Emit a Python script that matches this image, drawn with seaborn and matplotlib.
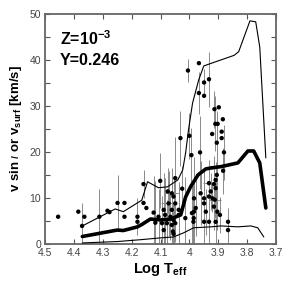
import numpy as np
import pandas as pd
import matplotlib
matplotlib.use("Agg")
import matplotlib.pyplot as plt
from matplotlib.ticker import MultipleLocator
import seaborn as sns

# Model tracks: mean (thick), upper and lower envelopes (thin)
mean_logT = [4.371, 4.25, 4.229, 4.18, 4.165, 4.135, 4.10, 4.065, 4.03, 4.013,
             3.996, 3.97, 3.943, 3.926, 3.89, 3.832, 3.797, 3.777, 3.756, 3.735]
mean_v = [1.6, 3.0, 2.9, 3.7, 4.2, 5.4, 5.2, 5.4, 6.3, 10.2,
          12.4, 15.0, 16.3, 16.5, 16.8, 17.6, 20.2, 20.2, 17.6, 7.8]

upper_logT = [4.371, 4.257, 4.229, 4.165, 4.145, 4.107, 4.076, 4.040, 4.023, 4.013,
              4.003, 3.989, 3.968, 3.950, 3.90, 3.845, 3.829, 3.790, 3.770, 3.756, 3.735]
upper_v = [3.9, 7.6, 7.0, 9.5, 13.5, 12.2, 12.4, 13.9, 16.1, 19.8,
           24.8, 30.6, 35.6, 38.7, 39.8, 41.0, 41.8, 48.5, 48.3, 42.8, 18.7]

lower_logT = [4.371, 4.25, 4.17, 4.10, 4.055, 4.02, 3.985, 3.926, 3.89, 3.832,
              3.787, 3.763, 3.742]
lower_v = [0.2, 0.5, 0.9, 1.3, 1.5, 2.4, 3.5, 3.7, 3.9, 3.7, 3.9, 3.5, 1.5]

# Observed stars: log Teff, v sin i, error on v, error on log Teff
obs_logT = [4.455, 4.385, 4.364, 4.372, 4.312, 4.284, 4.277, 4.249, 4.225, 4.225,
            4.180, 4.180, 4.159, 4.159, 4.149,
            4.101, 4.049, 4.075, 4.061, 4.055, 4.072, 4.049, 4.089, 4.061, 4.037,
            4.124, 4.107, 4.084, 4.066, 4.037, 4.055, 4.118, 4.095, 4.078, 4.061,
            4.049, 4.089, 4.057, 4.055, 4.014, 3.991, 3.985, 4.031, 4.000, 3.993,
            4.025,
            3.963, 3.880, 3.883, 3.905, 3.909, 3.915, 3.909, 3.932, 3.926, 3.932,
            3.920, 3.912, 3.961, 3.949, 3.984, 3.978, 3.949, 3.943, 3.915, 3.903,
            3.894, 3.984, 3.986, 3.949, 3.932, 3.909, 3.866, 3.866,
            4.005, 3.967, 3.949, 3.932, 3.967, 3.949, 3.913, 3.898, 3.884, 3.910,
            3.902, 3.888, 3.921, 3.888, 3.905]
obs_v = [5.9, 7.0, 5.9, 3.9, 5.9, 7.2, 6.9, 8.9, 8.9, 5.9,
         5.9, 4.8, 13.0, 8.9, 7.8,
         13.7, 14.3, 11.4, 11.0, 10.3, 8.8, 8.8, 7.4, 7.4, 7.4,
         6.8, 5.9, 6.3, 5.9, 6.3, 5.2, 4.6, 4.5, 4.5, 4.1,
         4.5, 3.0, 2.7, 2.2, 5.6, 6.7, 5.6, 23.0, 23.5, 19.3,
         12.0,
         19.9, 19.9, 15.9, 15.0, 13.9, 13.0, 12.1, 13.2, 11.4, 10.3,
         9.9, 9.6, 11.0, 9.9, 9.9, 7.8, 8.8, 7.0, 8.1, 7.0,
         6.3, 7.0, 4.8, 4.8, 4.8, 4.8, 4.8, 3.0,
         37.7, 39.3, 35.1, 35.8, 32.8, 32.2, 29.3, 29.7, 27.1, 26.1,
         26.1, 24.4, 23.9, 23.0, 22.0]
obs_verr = [0, 0, 0, 5, 6, 0, 0, 6, 0, 0,
            4, 0, 3, 0, 0,
            6, 9, 5, 5, 4, 7, 6, 8, 9, 6,
            8, 6, 8, 5, 7, 5, 9, 6, 5, 8,
            4, 5, 6, 4, 9, 7, 6, 6, 5, 6,
            5,
            8, 6, 5, 7, 4, 6, 3, 5, 4, 3,
            3, 4, 7, 6, 9, 6, 4, 5, 5, 4,
            4, 6, 8, 6, 5, 7, 3, 3,
            2.6, 0, 3, 6, 4.6, 0, 4, 0, 0, 6,
            0, 0, 0, 0, 7]
obs_terr = [0] * len(obs_logT)
obs_terr[18] = 0.025
obs_terr[20] = 0.025
obs_terr[53] = 0.02
obs_terr[57] = 0.02

df = pd.DataFrame({"logT": obs_logT, "v": obs_v, "verr": obs_verr, "terr": obs_terr})

sns.set_style("ticks")
plt.rcParams["font.family"] = ["Liberation Sans", "DejaVu Sans"]
plt.rcParams["mathtext.fontset"] = "custom"
plt.rcParams["mathtext.rm"] = "Liberation Sans"
plt.rcParams["mathtext.bf"] = "Liberation Sans:bold"
plt.rcParams["mathtext.it"] = "Liberation Sans:italic"
plt.rcParams["text.color"] = "black"
plt.rcParams["axes.labelcolor"] = "black"

fig = plt.figure(figsize=(2.97, 2.91), dpi=100)
ax = fig.add_axes([0.152, 0.162, 0.777, 0.79])

# error bars first, so the dots and lines sit on top
ax.errorbar(df["logT"], df["v"], yerr=df["verr"], xerr=df["terr"], fmt="none",
            ecolor="#8a8a8a", elinewidth=0.7, capsize=0, zorder=1)

sns.lineplot(x=upper_logT, y=upper_v, sort=False, estimator=None,
             color="black", linewidth=0.8, ax=ax, zorder=3)
sns.lineplot(x=lower_logT, y=lower_v, sort=False, estimator=None,
             color="black", linewidth=0.8, ax=ax, zorder=3)
sns.lineplot(x=mean_logT, y=mean_v, sort=False, estimator=None,
             color="black", linewidth=2.6, ax=ax, zorder=4)
sns.scatterplot(data=df, x="logT", y="v", color="black", s=10,
                edgecolor="none", ax=ax, zorder=5)

ax.set_xlim(4.5, 3.7)
ax.set_ylim(0, 50)
ax.yaxis.set_major_locator(MultipleLocator(10))
ax.yaxis.set_minor_locator(MultipleLocator(5))
ax.set_xticks([4.5, 4.4, 4.3, 4.2, 4.1, 4.0, 3.9, 3.8, 3.7])
ax.set_xticklabels(["4.5", "4.4", "4.3", "4.2", "4.1", "4", "3.9", "3.8", "3.7"])
ax.tick_params(which="both", direction="in", top=True, right=True,
               colors="#555555", labelcolor="#444444", labelsize=7.5, width=0.8)
ax.tick_params(which="major", length=3.5, pad=3)
ax.tick_params(which="minor", length=3.5)
for s in ax.spines.values():
    s.set_color("#666666")
    s.set_linewidth(1.3)

ax.set_xlabel("Log T$_{\\mathbf{eff}}$", fontsize=10.5, fontweight="bold", labelpad=2)
ax.set_ylabel("v sin $\\iota$ or v$_{\\mathbf{surf}}$ [km/s]", fontsize=9.5,
              fontweight="bold", labelpad=4)

ax.text(0.065, 0.865, "Z=10$^{\\mathbf{-3}}$", transform=ax.transAxes,
        fontsize=11.5, fontweight="bold")
ax.text(0.065, 0.778, "Y=0.246", transform=ax.transAxes,
        fontsize=11.5, fontweight="bold")

fig.savefig("out.png", dpi=100)
